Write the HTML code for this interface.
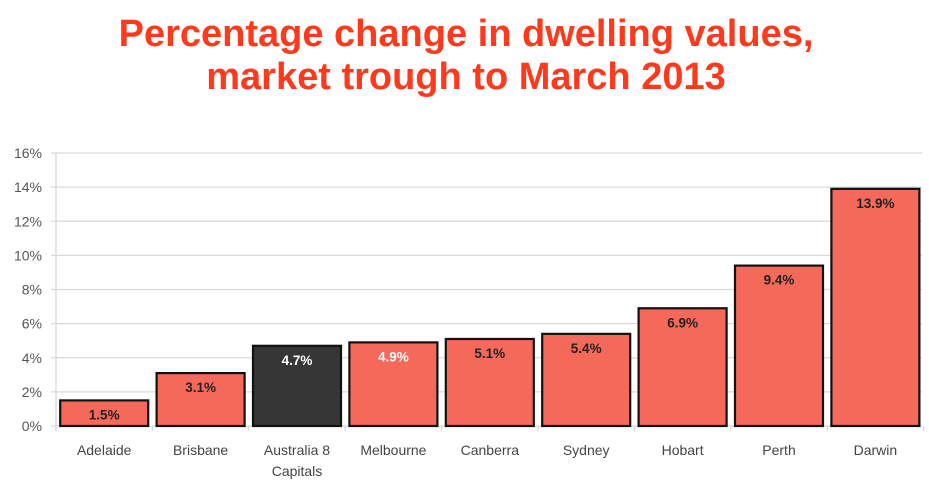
<!DOCTYPE html>
<html><head><meta charset="utf-8"><style>
body{margin:0;background:#fff;width:929px;height:489px;overflow:hidden;font-family:"Liberation Sans",sans-serif}
svg text{font-family:"Liberation Sans","DejaVu Sans",sans-serif}
</style></head><body>
<svg id="c" width="929" height="489">
<text x="466" y="46" text-anchor="middle" font-size="38" font-weight="bold" fill="#ff3a1c">Percentage change in dwelling values,</text>
<text x="466" y="89" text-anchor="middle" font-size="38" font-weight="bold" fill="#ff3a1c">market trough to March 2013</text>
<g id="grid"></g><g id="bars"></g><g id="xl"></g>
</svg>
<script>
const categories=[["Adelaide"],["Brisbane"],["Australia  8","Capitals"],["Melbourne"],["Canberra"],["Sydney"],["Hobart"],["Perth"],["Darwin"]];
const values=[1.5,3.1,4.7,4.9,5.1,5.4,6.9,9.4,13.9];
const valueLabels=["1.5%","3.1%","4.7%","4.9%","5.1%","5.4%","6.9%","9.4%","13.9%"];
const yTicks=[0,2,4,6,8,10,12,14,16];
const highlight=[false,false,true,false,false,false,false,false,false];
const NS="http://www.w3.org/2000/svg";
const x0=56,cw=96.4,y0=426,yTop=153,ymax=16;
const y=v=>y0-(v/ymax)*(y0-yTop);
const xc=i=>x0+cw*(i+0.5);
function mk(t,a,p,txt){const e=document.createElementNS(NS,t);for(const k in a)e.setAttribute(k,a[k]);if(txt!==undefined)e.textContent=txt;p.appendChild(e);return e;}
const g=document.getElementById('grid'),b=document.getElementById('bars'),xl=document.getElementById('xl');
yTicks.forEach(t=>{
 const l=mk('line',{x1:x0-5,x2:922,y1:y(t),y2:y(t),stroke:'#d9d9d9','stroke-width':1.3},g);
 
 
 const tx=mk('text',{x:42,y:y(t)+5,'text-anchor':'end','font-size':14,fill:'#555'},g,t+'%');
 
 
});
const ax=mk('line',{x1:x0,x2:x0,y1:yTop,y2:y0+4,stroke:'#d9d9d9','stroke-width':1.3},g);


for(let i=0;i<=categories.length;i++){
 const t=mk('line',{x1:x0+cw*i,x2:x0+cw*i,y1:y0,y2:y0+5,stroke:'#d9d9d9','stroke-width':1.3},g);
 
 
}
values.forEach((v,i)=>{
 const bw=88;
 const r=mk('rect',{x:xc(i)-bw/2,y:y(v),width:bw,height:y0-y(v),fill:highlight[i]?'#363636':'#f4695a',stroke:'#111','stroke-width':2.2},b);
 
 
 const white=highlight[i]||i===3;
 const t=mk('text',{x:xc(i),y:y(v)+19,'text-anchor':'middle','font-size':13.5,'font-weight':'bold',fill:white?'#fff':'#222'},b,valueLabels[i]);
 
 
 categories[i].forEach((line,j)=>{
  const c=mk('text',{x:xc(i),y:y0+29+j*21,'text-anchor':'middle','font-size':14,fill:'#444','xml:space':'preserve'},xl,line);
  
  
 });
});
</script>
</body></html>
